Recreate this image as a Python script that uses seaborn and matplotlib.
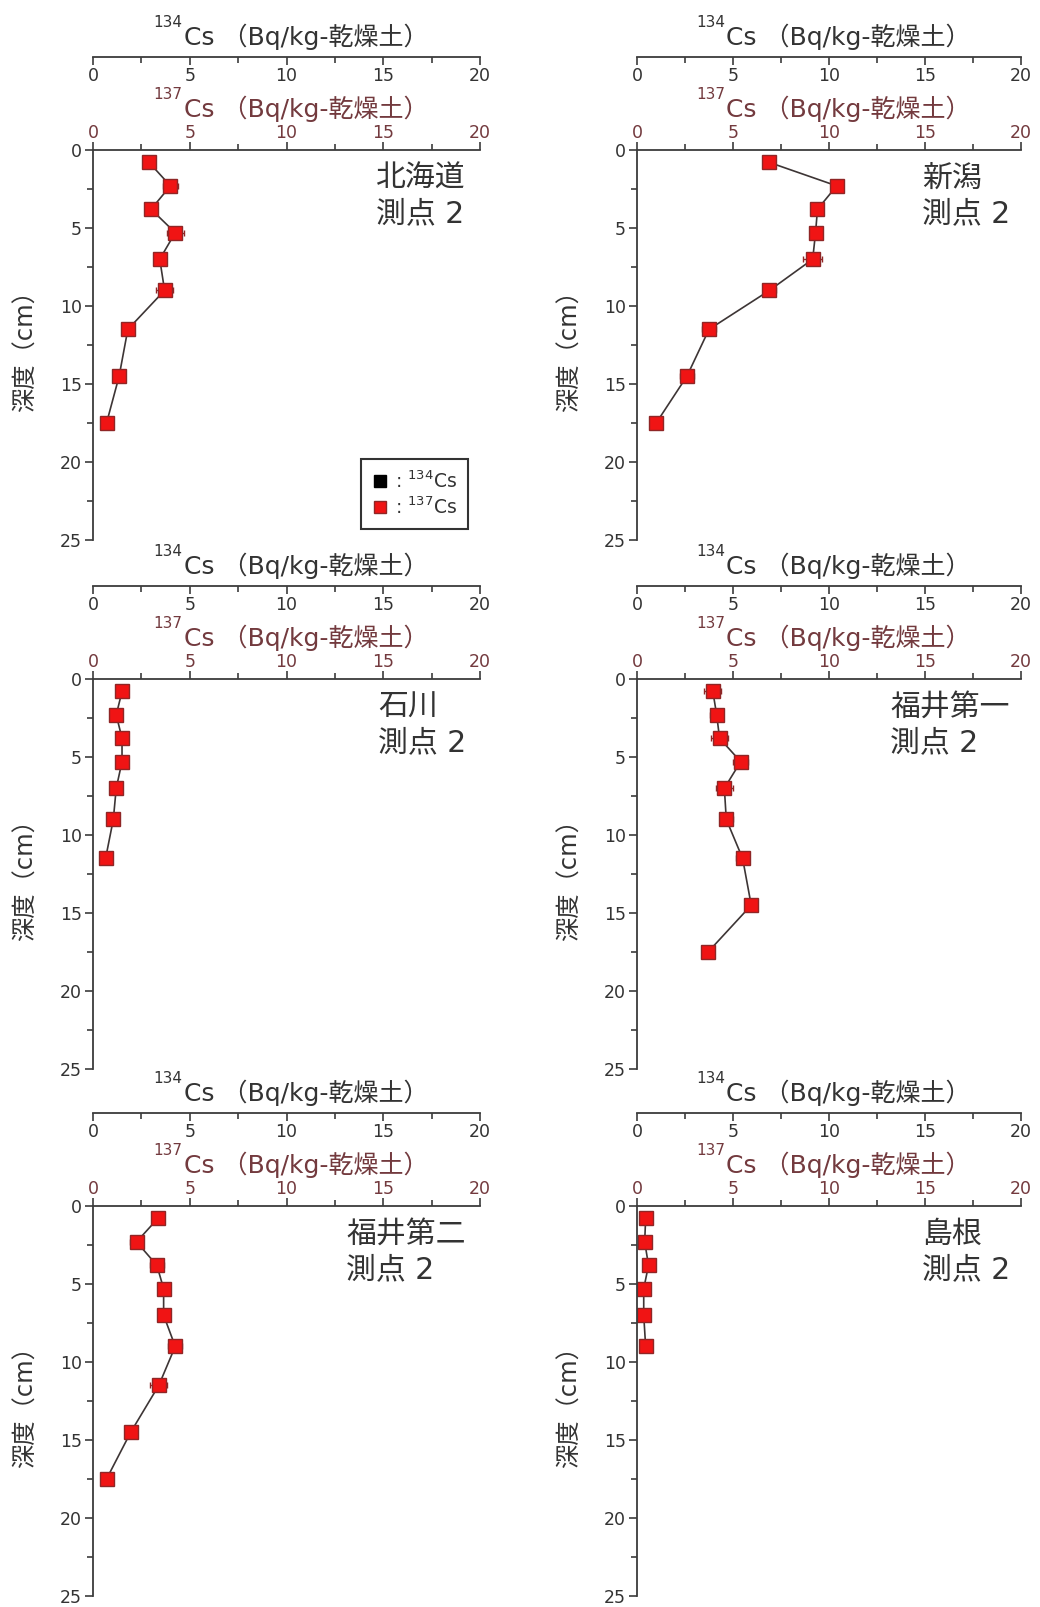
import pandas as pd
import matplotlib
matplotlib.use("Agg")
import matplotlib.pyplot as plt
import seaborn as sns
from matplotlib.lines import Line2D
from matplotlib.ticker import MultipleLocator

sns.set_style("ticks")
plt.rcParams["font.family"] = ["DejaVu Sans", "Noto Sans CJK JP"]

# データ
sites = ["北海道", "新潟", "石川", "福井第一", "福井第二", "島根"]
point_label = "測点 2"

depth_9 = [0.8, 2.3, 3.8, 5.3, 7.0, 9.0, 11.5, 14.5, 17.5]
depth_7 = [0.8, 2.3, 3.8, 5.3, 7.0, 9.0, 11.5]
depth_6 = [0.8, 2.3, 3.8, 5.3, 7.0, 9.0]

hokkaido_cs137 = [2.9, 4.0, 3.0, 4.25, 3.45, 3.7, 1.8, 1.35, 0.7]
hokkaido_err = [0.3, 0.4, 0.25, 0.45, 0.3, 0.45, 0.25, 0.25, 0.2]
niigata_cs137 = [6.9, 10.4, 9.4, 9.3, 9.15, 6.9, 3.75, 2.6, 1.0]
niigata_err = [0.25, 0.3, 0.3, 0.25, 0.5, 0.35, 0.35, 0.35, 0.2]
ishikawa_cs137 = [1.5, 1.2, 1.5, 1.5, 1.2, 1.05, 0.65]
ishikawa_err = [0.15, 0.15, 0.2, 0.2, 0.15, 0.15, 0.15]
fukui1_cs137 = [3.95, 4.15, 4.3, 5.4, 4.55, 4.65, 5.5, 5.95, 3.7]
fukui1_err = [0.45, 0.35, 0.45, 0.4, 0.45, 0.35, 0.35, 0.3, 0.2]
fukui2_cs137 = [3.35, 2.25, 3.3, 3.65, 3.65, 4.25, 3.4, 1.95, 0.7]
fukui2_err = [0.3, 0.35, 0.35, 0.3, 0.3, 0.35, 0.45, 0.25, 0.2]
shimane_cs137 = [0.45, 0.4, 0.6, 0.35, 0.35, 0.45]
shimane_err = [0.1, 0.1, 0.1, 0.1, 0.1, 0.1]

depths = [depth_9, depth_9, depth_7, depth_9, depth_9, depth_6]
values = [hokkaido_cs137, niigata_cs137, ishikawa_cs137, fukui1_cs137, fukui2_cs137, shimane_cs137]
errors = [hokkaido_err, niigata_err, ishikawa_err, fukui1_err, fukui2_err, shimane_err]

unit_text = "Cs （Bq/kg-乾燥土）"
ylabel = "深度（cm）"
legend_labels = [": $^{134}$Cs", ": $^{137}$Cs"]

# 色など
text_c = "#333333"
spine_c = "#3c3c3c"
c137 = "#733a3e"
face_c = "#f01414"
edge_c = "#8f2626"
line_c = "#3d3535"

W, H = 1040, 1607
col_left = [93, 637]
col_w = [387, 384]
row_top = [150, 679, 1206]
ax_h = 390

fig = plt.figure(figsize=(W / 100, H / 100), dpi=100)


def set_locators(axis_obj):
    axis_obj.set_major_locator(MultipleLocator(5))
    axis_obj.set_minor_locator(MultipleLocator(2.5))


def axis_title(ax, iso, base_dy, color):
    # 上付きの質量数と本文を別々に置く
    ax.annotate(iso, xy=(0.5, 1), xycoords="axes fraction", xytext=(-104, base_dy + 18),
                textcoords="offset pixels", ha="right", va="baseline",
                fontsize=11, color=color)
    ax.annotate(unit_text, xy=(0.5, 1), xycoords="axes fraction", xytext=(-103, base_dy),
                textcoords="offset pixels", ha="left", va="baseline",
                fontsize=18, color=color)


for i, site in enumerate(sites):
    r, c = divmod(i, 2)
    l = col_left[c] / W
    w = col_w[c] / W
    b = 1 - (row_top[r] + ax_h) / H
    ax = fig.add_axes([l, b, w, ax_h / H])

    df = pd.DataFrame({"depth": depths[i], "cs137": values[i]})
    ax.errorbar(df["cs137"], df["depth"], xerr=errors[i], fmt="none",
                ecolor=edge_c, elinewidth=1, capsize=2, zorder=1.5)
    sns.lineplot(data=df, x="cs137", y="depth", orient="y", sort=False,
                 estimator=None, color=line_c, lw=1.2, marker="s", markersize=9.5,
                 markerfacecolor=face_c, markeredgecolor=edge_c,
                 markeredgewidth=1, ax=ax)

    ax.set_xlim(0, 20)
    ax.set_ylim(25, 0)
    ax.set_xlabel("")
    ax.set_ylabel("")
    for s in ["bottom", "right"]:
        ax.spines[s].set_visible(False)
    for s in ["top", "left"]:
        ax.spines[s].set_color(spine_c)
        ax.spines[s].set_linewidth(1.3)
    ax.xaxis.tick_top()
    set_locators(ax.xaxis)
    set_locators(ax.yaxis)
    ax.tick_params(axis="x", which="major", direction="out", length=6, width=1.2,
                   colors=spine_c, labelcolor=c137, labelsize=12.5, pad=0)
    ax.tick_params(axis="x", which="minor", direction="out", length=4, width=1.2,
                   colors=spine_c)
    ax.tick_params(axis="y", which="major", direction="out", length=6, width=1.2,
                   colors=spine_c, labelcolor=text_c, labelsize=12.5, pad=2)
    ax.tick_params(axis="y", which="minor", direction="out", length=4, width=1.2,
                   colors=spine_c)

    # 上側の134Cs軸
    ax2 = fig.add_axes([l, 1 - (row_top[r] - 93) / H, w, 0.0001])
    ax2.patch.set_visible(False)
    ax2.set_xlim(0, 20)
    ax2.set_yticks([])
    for s in ["top", "left", "right"]:
        ax2.spines[s].set_visible(False)
    ax2.spines["bottom"].set_color(spine_c)
    ax2.spines["bottom"].set_linewidth(1.3)
    set_locators(ax2.xaxis)
    ax2.tick_params(axis="x", which="major", direction="out", length=6, width=1.2,
                    colors=spine_c, labelcolor=text_c, labelsize=12.5, pad=1)
    ax2.tick_params(axis="x", which="minor", direction="out", length=4, width=1.2,
                    colors=spine_c)

    axis_title(ax, "137", 33, c137)
    axis_title(ax, "134", 105, text_c)
    ax.annotate(ylabel, xy=(0, 0.5), xycoords="axes fraction", xytext=(-67, 0),
                textcoords="offset pixels", ha="center", va="center",
                rotation=90, fontsize=17.5, color=text_c)
    ax.annotate(site + "\n" + point_label, xy=(0, 1), xycoords="axes fraction",
                xytext=(373, -46), textcoords="offset pixels", ha="right",
                va="center", ma="left", fontsize=21.5, color=text_c,
                linespacing=1.3)

    if i == 0:
        handles = [
            Line2D([], [], ls="none", marker="s", markersize=8,
                   markerfacecolor="black", markeredgecolor="black"),
            Line2D([], [], ls="none", marker="s", markersize=8,
                   markerfacecolor=face_c, markeredgecolor=edge_c),
        ]
        leg = ax.legend(handles, legend_labels, loc="lower right",
                        bbox_to_anchor=(1 - 12 / col_w[0], 11 / ax_h),
                        borderaxespad=0, fontsize=13.5, frameon=True,
                        fancybox=False, handlelength=0.8, handletextpad=0.4,
                        labelspacing=0.25, borderpad=0.6)
        leg.get_frame().set_edgecolor("black")
        leg.get_frame().set_linewidth(1.5)
        for t in leg.get_texts():
            t.set_color(text_c)

fig.savefig("out.png", dpi=100)
